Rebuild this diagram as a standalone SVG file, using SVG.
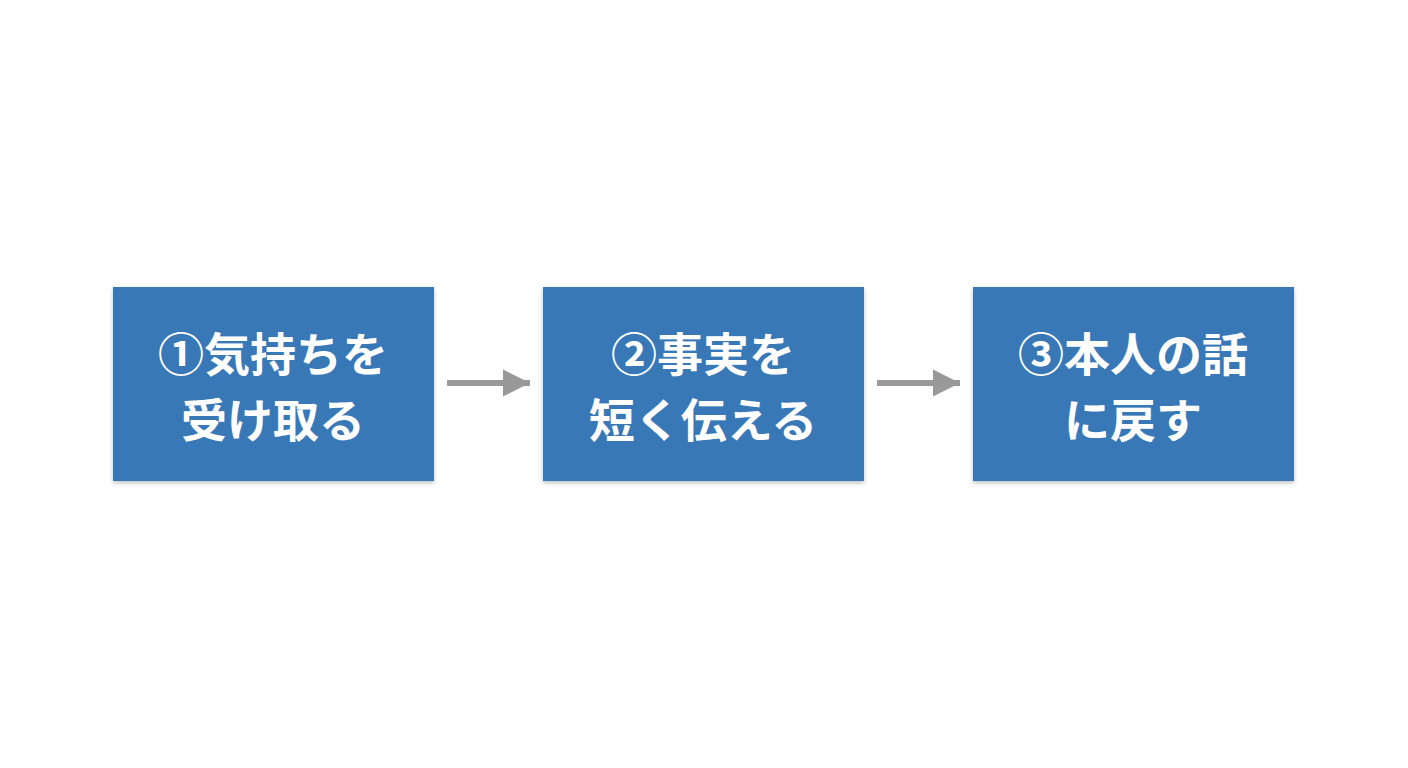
<svg xmlns="http://www.w3.org/2000/svg" width="1408" height="768" viewBox="0 0 1408 768">
<defs>
<style>
.box{fill:#3878b6;}
.t{font-family:"Noto Sans CJK JP",sans-serif;font-weight:bold;font-size:46px;fill:#fff;text-anchor:middle;}
.c{stroke:#999;stroke-width:6;fill:none;}
</style>
<filter id="sh" x="-10%" y="-10%" width="120%" height="130%"><feDropShadow dx="0" dy="2" stdDeviation="2" flood-color="#000" flood-opacity="0.25"/></filter>
<marker id="ah" viewBox="0 0 10 10" refX="10" refY="5" markerWidth="4.5" markerHeight="5.5" markerUnits="strokeWidth" orient="auto"><path d="M0,0L10,5L0,10z" fill="#999"/></marker>
</defs>
<rect width="1408" height="768" fill="#fff"/>
<g id="n1"><rect class="box" x="113" y="287" width="321" height="194" filter="url(#sh)"/><text class="t" x="273" y="371">①気持ちを</text><text class="t" x="273" y="437">受け取る</text></g>
<g id="n2"><rect class="box" x="543" y="287" width="321" height="194" filter="url(#sh)"/><text class="t" x="703" y="371">②事実を</text><text class="t" x="703" y="437">短く伝える</text></g>
<g id="n3"><rect class="box" x="973" y="287" width="321" height="194" filter="url(#sh)"/><text class="t" x="1133" y="371">③本人の話</text><text class="t" x="1133" y="437">に戻す</text></g>
<g id="connectors">
<line class="c" x1="447" y1="383" x2="530" y2="383" marker-end="url(#ah)"/>
<line class="c" x1="877" y1="383" x2="960" y2="383" marker-end="url(#ah)"/>
</g>
</svg>
